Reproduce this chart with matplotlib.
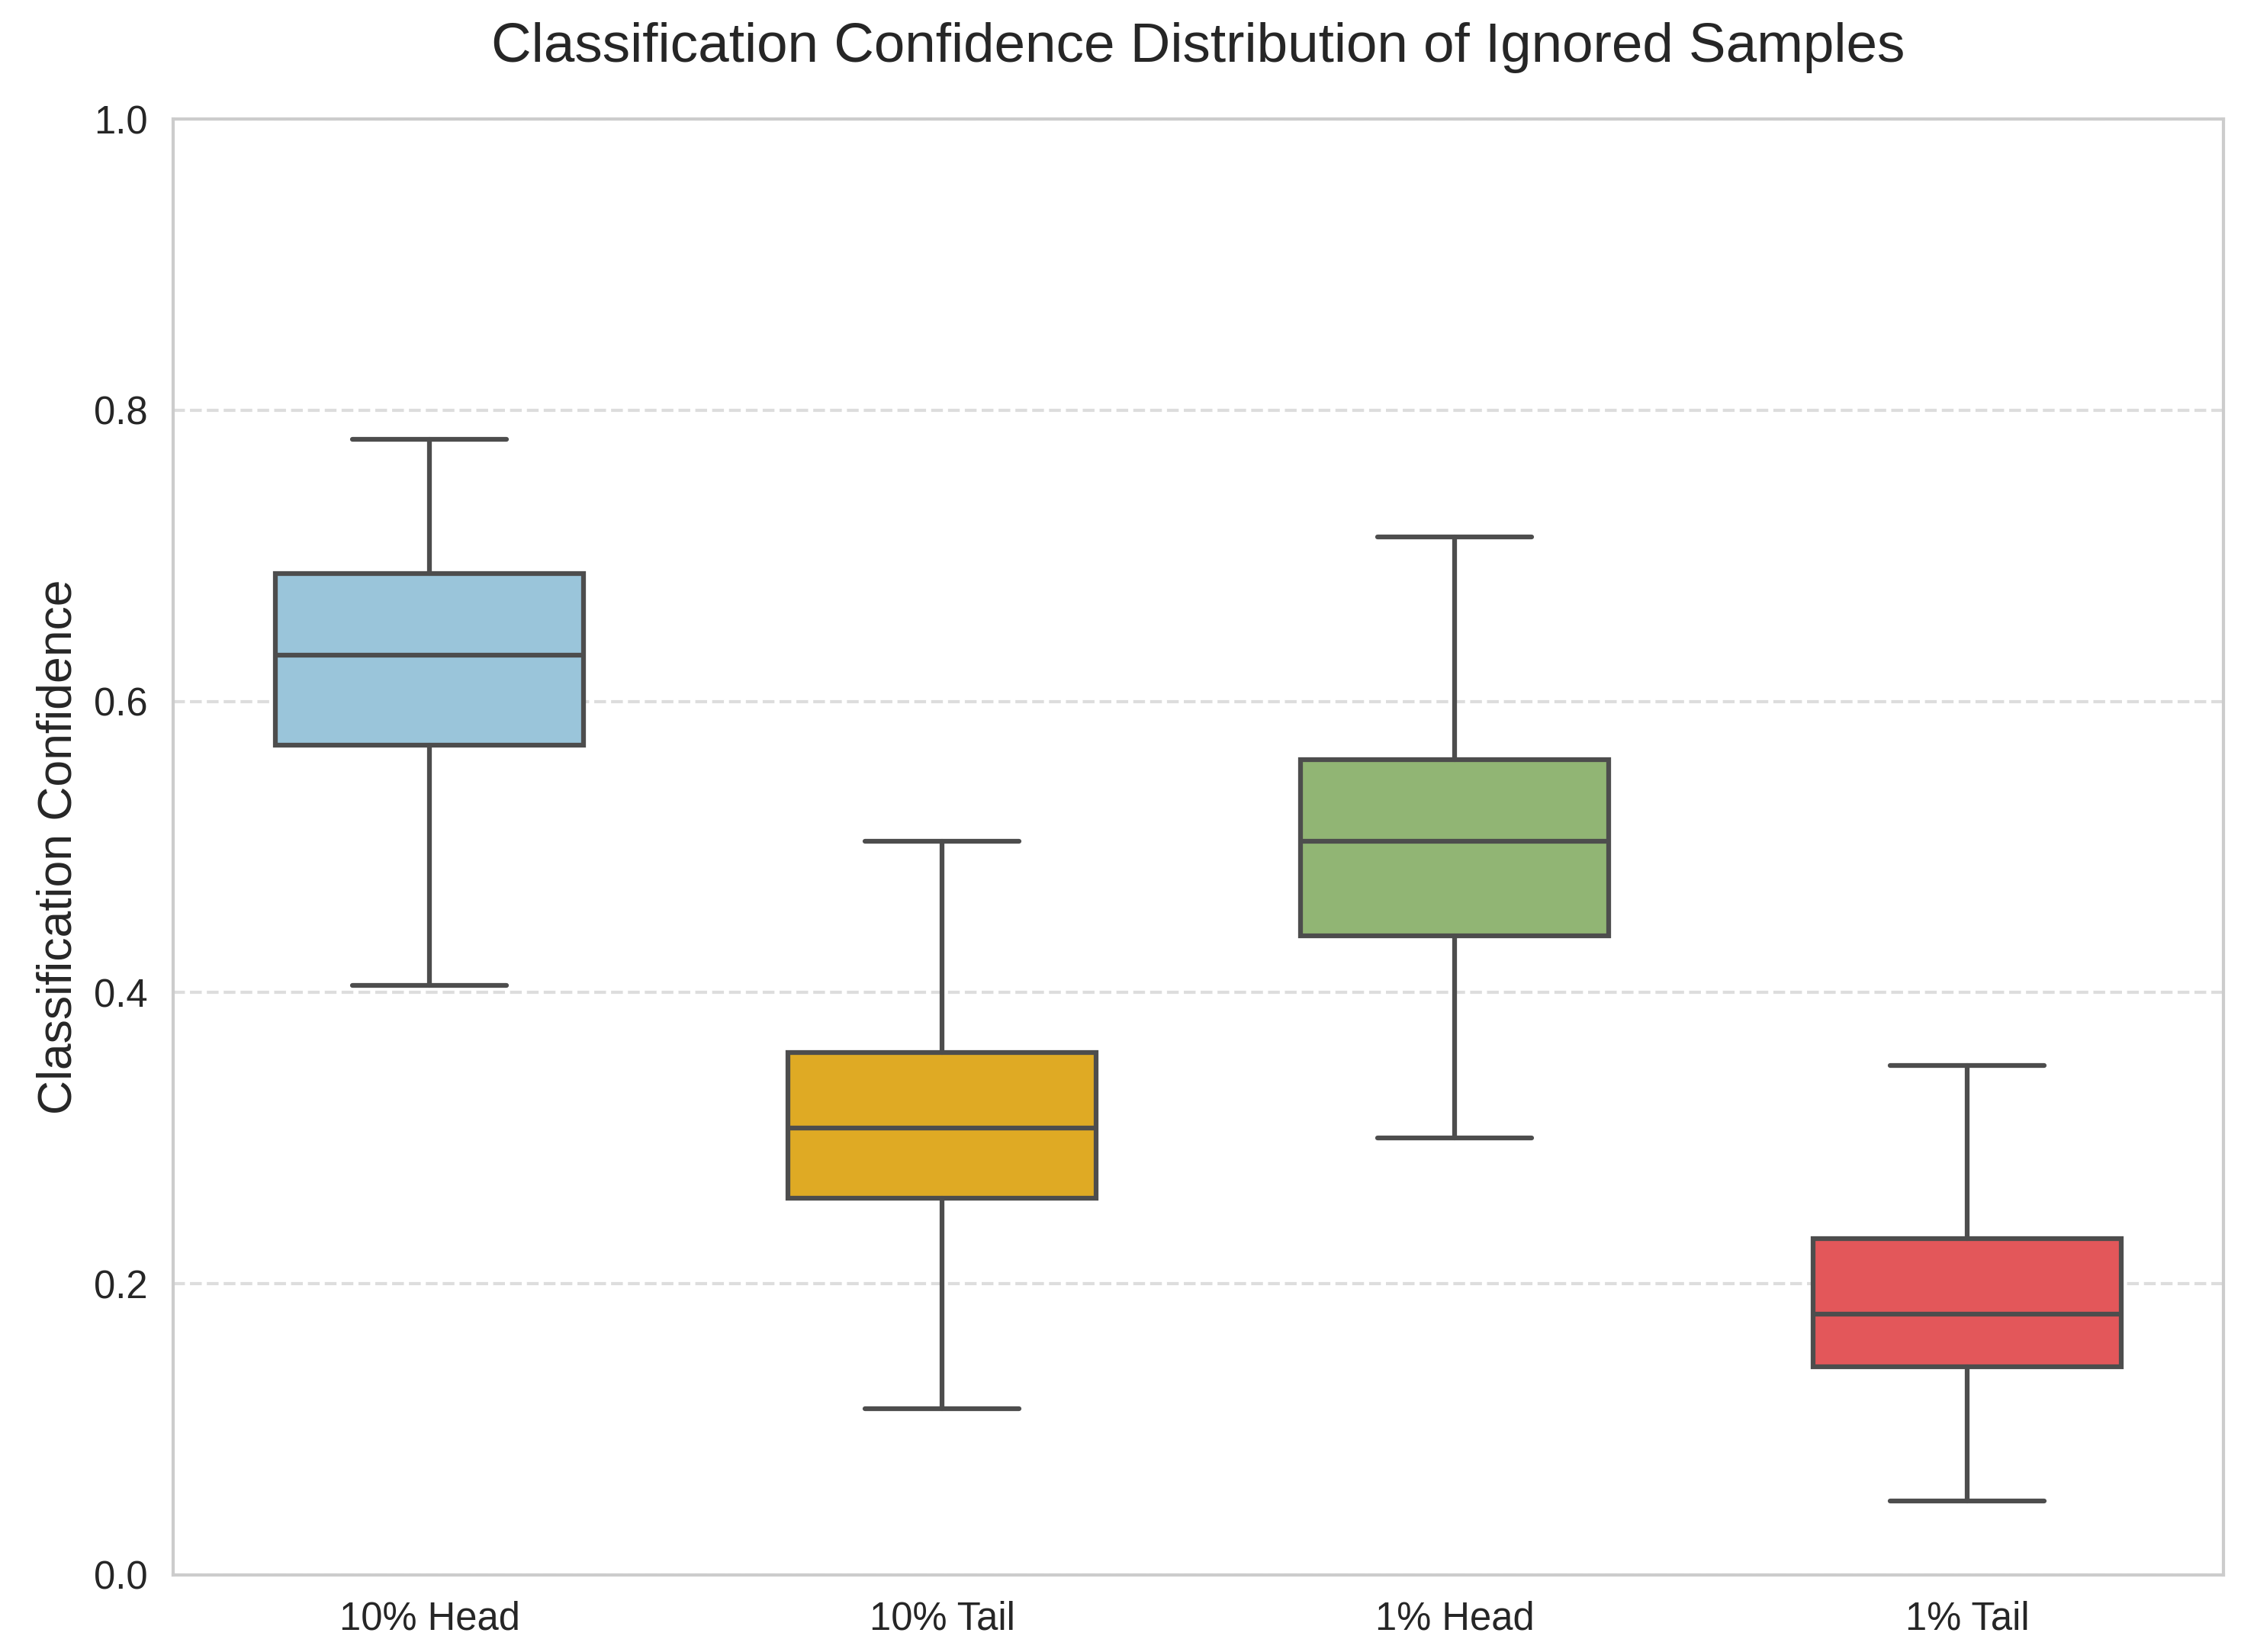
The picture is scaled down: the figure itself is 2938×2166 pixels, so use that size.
import matplotlib
matplotlib.use("Agg")
import matplotlib.pyplot as plt
import seaborn as sns

# Box statistics
groups = ["10% Head", "10% Tail", "1% Head", "1% Tail"]
whisker_low = [0.405, 0.114, 0.300, 0.051]
q1 = [0.570, 0.259, 0.439, 0.143]
median = [0.632, 0.307, 0.504, 0.179]
q3 = [0.688, 0.359, 0.560, 0.231]
whisker_high = [0.780, 0.504, 0.713, 0.350]
colors = ["#9ac5da", "#dfaa24", "#91b574", "#e3575a"]

EDGE = "#4d4d4d"
LW = 1.5

sns.set_style("whitegrid")
plt.rcParams["font.family"] = ["Liberation Sans", "DejaVu Sans"]

fig = plt.figure(figsize=(2938 / 300, 2166 / 300), dpi=300)
ax = fig.add_axes([227 / 2938, 1 - 2065 / 2166, (2915 - 227) / 2938, (2065 - 156) / 2166])

stats = []
for i, name in enumerate(groups):
    stats.append({
        "label": name,
        "whislo": whisker_low[i],
        "q1": q1[i],
        "med": median[i],
        "q3": q3[i],
        "whishi": whisker_high[i],
        "fliers": [],
    })

bp = ax.bxp(
    stats,
    positions=range(len(groups)),
    widths=0.6,
    capwidths=0.3,
    patch_artist=True,
    showfliers=False,
    boxprops=dict(edgecolor=EDGE, linewidth=LW),
    medianprops=dict(color=EDGE, linewidth=LW),
    whiskerprops=dict(color=EDGE, linewidth=LW),
    capprops=dict(color=EDGE, linewidth=LW, solid_capstyle="round"),
)
for patch, c in zip(bp["boxes"], colors):
    patch.set_facecolor(c)

ax.set_xlim(-0.5, len(groups) - 0.5)
ax.set_ylim(0, 1)
ax.set_yticks([0.0, 0.2, 0.4, 0.6, 0.8, 1.0])
ax.set_xticks(range(len(groups)))
ax.set_xticklabels(groups)
ax.tick_params(axis="both", labelsize=12.2, colors="#262626", length=0, pad=8)

ax.grid(False)
ax.yaxis.grid(True, linestyle="--", color="#dddddd", linewidth=1.0)
ax.set_axisbelow(True)
for sp in ax.spines.values():
    sp.set_color("#cccccc")
    sp.set_linewidth(1.0)

ax.set_ylabel("Classification Confidence", fontsize=15, color="#262626")
ax.set_title("Classification Confidence Distribution of Ignored Samples",
             fontsize=17.5, color="#262626", pad=18)

fig.savefig("out.png", dpi=300)
